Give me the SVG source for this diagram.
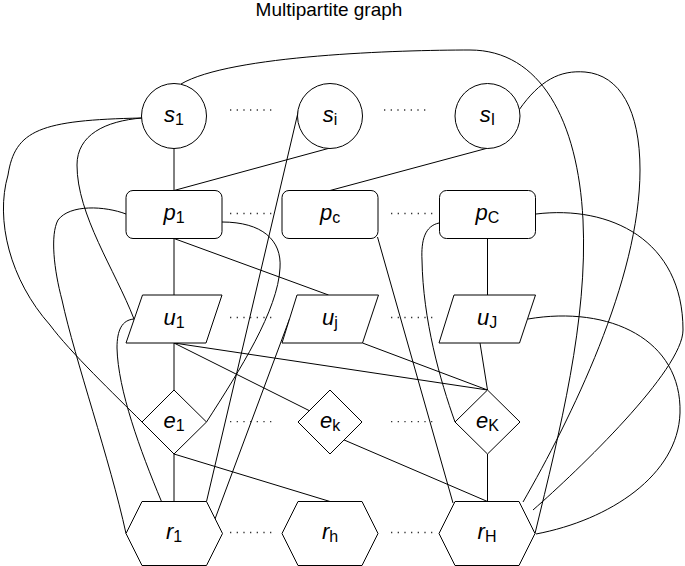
<svg xmlns="http://www.w3.org/2000/svg" width="685" height="566" viewBox="0 0 685 566">
<style>
.n{fill:#fff;stroke:#000;stroke-width:1}
.e{fill:none;stroke:#000;stroke-width:1}
.d{fill:none;stroke:#333;stroke-width:1.3;stroke-dasharray:1.3 5.37}
.lbl{font-family:"Liberation Sans",Arial,Helvetica,sans-serif;font-size:22px;text-anchor:middle;fill:#000}
.m{font-style:italic}
.s{font-size:16px}
.title{font-family:"Liberation Sans",Arial,Helvetica,sans-serif;font-size:19px;text-anchor:middle;fill:#000}
</style>
<rect width="685" height="566" fill="#fff"/>
<text class="title" x="329" y="16">Multipartite graph</text>
<g id="connectors">
<line class="e" x1="174" y1="148.5" x2="174" y2="190.5"/>
<line class="e" x1="330" y1="148" x2="174" y2="190.5"/>
<line class="e" x1="488" y1="148" x2="330" y2="190.5"/>
<line class="e" x1="174" y1="238.5" x2="174" y2="295"/>
<line class="e" x1="174" y1="238.5" x2="328.5" y2="295"/>
<line class="e" x1="487.5" y1="238.5" x2="487.5" y2="295"/>
<line class="e" x1="377.5" y1="237" x2="453" y2="503"/>
<line class="e" x1="174" y1="343" x2="174" y2="390"/>
<line class="e" x1="174" y1="343" x2="309" y2="410.5"/>
<line class="e" x1="174" y1="343" x2="487.5" y2="390"/>
<line class="e" x1="362.5" y1="343" x2="487.5" y2="390"/>
<line class="e" x1="480" y1="343" x2="487.5" y2="390"/>
<line class="e" x1="174" y1="454" x2="174" y2="501.5"/>
<line class="e" x1="174" y1="454" x2="330" y2="501.5"/>
<line class="e" x1="487.5" y1="454" x2="487.5" y2="501.5"/>
<line class="e" x1="343" y1="439.5" x2="487.5" y2="501.5"/>
<line class="e" x1="298.6" y1="110" x2="206.5" y2="501.5"/>
<line class="e" x1="289.5" y1="319" x2="215" y2="519"/>
<path class="e" d="M142,118 C40,120 15,130 8,175 C-5,220 10,280 50,325 C70,352 115,395 142,422"/>
<path class="e" d="M142,118 C105,121 77,135 77,165 C77,215 115,270 134,319"/>
<path class="e" d="M126,214 C105,206 70,204 58,220 C50,235 54,270 62,300 C75,360 110,460 126,533.5"/>
<path class="e" d="M134,319 C122,320 117,330 117,348 C118,390 140,450 161.5,501.5"/>
<path class="e" d="M222,222 C262,222 282,240 280,268 C278,310 240,370 206.5,422"/>
<path class="e" d="M181,84 C230,55 400,50 470,50 C540,50 578,120 583,220 C588,320 560,430 535,533.5"/>
<path class="e" d="M519,110 C540,80 560,70 585,72 C620,75 640,110 640,170 C640,280 570,420 523,502"/>
<path class="e" d="M536,214 C610,205 683,240 683,330 C683,370 578.6,470 533,510"/>
<path class="e" d="M528,319 C610,305 682,340 680,413 C678,475 610,520 536,534"/>
<path class="e" d="M439,223 C425,226 421,240 422,260 C423,320 440,380 455,422"/>
</g>
<g id="separators">
<line class="d" x1="230" y1="110" x2="271.3" y2="110"/>
<line class="d" x1="384" y1="110" x2="425.3" y2="110"/>
<line class="d" x1="230" y1="213.5" x2="271.3" y2="213.5"/>
<line class="d" x1="391" y1="213.5" x2="432.3" y2="213.5"/>
<line class="d" x1="230" y1="317.5" x2="271.3" y2="317.5"/>
<line class="d" x1="391" y1="317.5" x2="432.3" y2="317.5"/>
<line class="d" x1="230" y1="421.7" x2="271.3" y2="421.7"/>
<line class="d" x1="391" y1="421.7" x2="432.3" y2="421.7"/>
<line class="d" x1="230" y1="532.5" x2="271.3" y2="532.5"/>
<line class="d" x1="391" y1="532.5" x2="432.3" y2="532.5"/>
</g>
<g id="s1"><circle class="n" cx="174" cy="116" r="32.5"/><text class="lbl" x="174" y="121.5"><tspan class="m">s</tspan><tspan class="s" dy="3">1</tspan></text></g>
<g id="si"><circle class="n" cx="330" cy="116" r="32.5"/><text class="lbl" x="330" y="121.5"><tspan class="m">s</tspan><tspan class="s" dy="3">i</tspan></text></g>
<g id="sI"><circle class="n" cx="487.5" cy="116" r="32.5"/><text class="lbl" x="487.5" y="121.5"><tspan class="m">s</tspan><tspan class="s" dy="3">I</tspan></text></g>
<g id="p1"><rect class="n" x="126" y="190.5" width="96" height="48" rx="7"/><text class="lbl" x="174" y="220"><tspan class="m">p</tspan><tspan class="s" dy="3">1</tspan></text></g>
<g id="pc"><rect class="n" x="282" y="190.5" width="96" height="48" rx="7"/><text class="lbl" x="330" y="220"><tspan class="m">p</tspan><tspan class="s" dy="3">c</tspan></text></g>
<g id="pC"><rect class="n" x="439.5" y="190.5" width="96" height="48" rx="7"/><text class="lbl" x="487.5" y="220"><tspan class="m">p</tspan><tspan class="s" dy="3">C</tspan></text></g>
<g id="u1"><polygon class="n" points="142.5,295 222,295 206,343 126,343"/><text class="lbl" x="174" y="324.5"><tspan class="m">u</tspan><tspan class="s" dy="3">1</tspan></text></g>
<g id="uj"><polygon class="n" points="297,295 378.5,295 362.5,343 282,343"/><text class="lbl" x="330" y="324.5"><tspan class="m">u</tspan><tspan class="s" dy="3">j</tspan></text></g>
<g id="uJ"><polygon class="n" points="454,295 535.5,295 519.5,343 439,343"/><text class="lbl" x="487" y="324.5"><tspan class="m">u</tspan><tspan class="s" dy="3">J</tspan></text></g>
<g id="e1"><polygon class="n" points="174,390 206.5,422 174,454 142,422"/><text class="lbl" x="174" y="427.5"><tspan class="m">e</tspan><tspan class="s" dy="3">1</tspan></text></g>
<g id="ek"><polygon class="n" points="330,390 362,422 330,454 298,422"/><text class="lbl" x="330" y="427.5"><tspan class="m">e</tspan><tspan class="s" dy="3">k</tspan></text></g>
<g id="eK"><polygon class="n" points="487.5,390 520,422 487.5,454 455,422"/><text class="lbl" x="487.5" y="427.5"><tspan class="m">e</tspan><tspan class="s" dy="3">K</tspan></text></g>
<g id="r1"><polygon class="n" points="142,501.5 206.5,501.5 222.5,533.5 206.5,565.5 142,565.5 126,533.5"/><text class="lbl" x="174" y="539"><tspan class="m">r</tspan><tspan class="s" dy="3">1</tspan></text></g>
<g id="rh"><polygon class="n" points="298,501.5 362,501.5 378,533.5 362,565.5 298,565.5 282,533.5"/><text class="lbl" x="330" y="539"><tspan class="m">r</tspan><tspan class="s" dy="3">h</tspan></text></g>
<g id="rH"><polygon class="n" points="455,501.5 519,501.5 535,533.5 519,565.5 455,565.5 439,533.5"/><text class="lbl" x="487" y="539"><tspan class="m">r</tspan><tspan class="s" dy="3">H</tspan></text></g>
</svg>
